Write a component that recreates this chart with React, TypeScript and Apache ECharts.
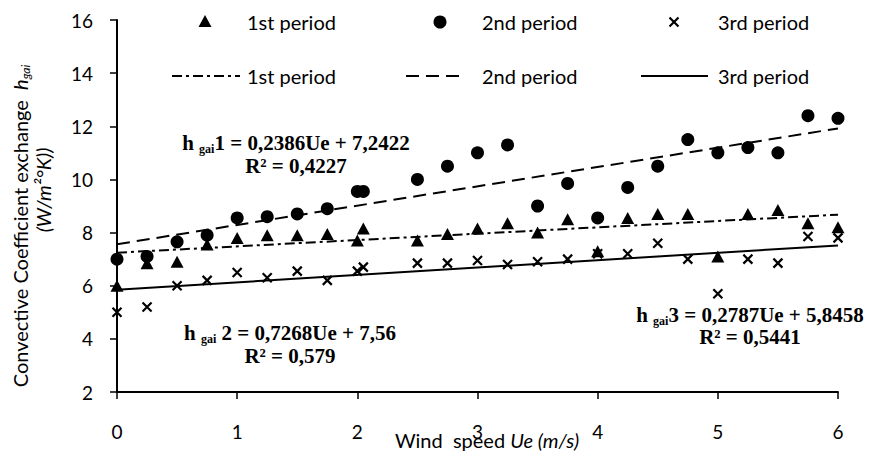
import React, { useEffect, useRef } from "react";
import * as echarts from "echarts";

const WIND = [0, 0.25, 0.5, 0.75, 1, 1.25, 1.5, 1.75, 2, 2.05, 2.5, 2.75, 3, 3.25, 3.5, 3.75, 4, 4.25, 4.5, 4.75, 5, 5.25, 5.5, 5.75, 6];
const PERIOD1 = [6.0, 6.85, 6.9, 7.55, 7.8, 7.9, 7.9, 7.95, 7.7, 8.15, 7.7, 7.95, 8.15, 8.35, 8.0, 8.5, 7.3, 8.55, 8.7, 8.7, 7.1, 8.7, 8.85, 8.35, 8.2];
const PERIOD2 = [7.0, 7.1, 7.65, 7.9, 8.55, 8.6, 8.7, 8.9, 9.55, 9.55, 10.0, 10.5, 11.0, 11.3, 9.0, 9.85, 8.55, 9.7, 10.5, 11.5, 11.0, 11.2, 11.0, 12.4, 12.3];
const PERIOD3 = [5.0, 5.2, 6.0, 6.2, 6.5, 6.3, 6.55, 6.2, 6.55, 6.7, 6.85, 6.85, 6.95, 6.8, 6.9, 7.0, 7.2, 7.2, 7.6, 7.0, 5.7, 7.0, 6.85, 7.85, 7.8];

const SERIES_NAMES = ["1st period", "2nd period", "3rd period"];
const SLOPES = [0.2386, 0.7268, 0.2787];
const INTERCEPTS = [7.2422, 7.56, 5.8458];
const EQ_LINE1 = ["1 = 0,2386Ue + 7,2422", " 2 = 0,7268Ue + 7,56", "3 = 0,2787Ue + 5,8458"];
const EQ_R2 = ["R² = 0,4227", "R² = 0,579", "R² = 0,5441"];

const X_TICKS = { min: 0, max: 6, interval: 1 };
const Y_TICKS = { min: 2, max: 16, interval: 2 };

const SANS = "Lato";
const SERIF = "Liberation Serif";

const CROSS = "path://M0,0L10,10M10,0L0,10";

function trend(i: number) {
  const x0 = Math.min(...WIND);
  const x1 = Math.max(...WIND);
  return [
    [x0, INTERCEPTS[i] + SLOPES[i] * x0],
    [x1, INTERCEPTS[i] + SLOPES[i] * x1],
  ];
}

function pts(ys: number[]) {
  return WIND.map((x, i) => [x, ys[i]]);
}

function eqText(i: number, cx: number, y1: number, y2: number) {
  return [
    {
      type: "text",
      x: cx,
      y: y1,
      style: {
        text: `{b|h }{s|gai}{b|${EQ_LINE1[i]}}`,
        align: "center",
        verticalAlign: "middle",
        textAlign: "center",
        textVerticalAlign: "middle",
        fill: "#000",
        rich: {
          b: { fontFamily: SERIF, fontWeight: "bold", fontSize: 21, lineHeight: 24, fill: "#000", verticalAlign: "middle" },
          s: { fontFamily: SERIF, fontWeight: "bold", fontSize: 12, lineHeight: 12, fill: "#000", verticalAlign: "bottom" },
        },
      },
    },
    {
      type: "text",
      x: cx,
      y: y2,
      style: {
        text: EQ_R2[i],
        align: "center",
        verticalAlign: "middle",
        textAlign: "center",
        textVerticalAlign: "middle",
        fill: "#000",
        font: `bold 21px "${SERIF}"`,
      },
    },
  ];
}

export default function App() {
  const ref = useRef<HTMLDivElement>(null);
  useEffect(() => {
    if (!ref.current) return;
    const chart = echarts.init(ref.current, null, { renderer: "svg" });
    const legendRow1 = 22;
    const legendRow2 = 76;
    const textStyle = { fill: "#000", font: `20px "${SANS}"`, verticalAlign: "middle", textVerticalAlign: "middle" };
    const crossStyle = { stroke: "#000", lineWidth: 2.2 };
    const graphic: any[] = [
      // legend row 1: markers
      { type: "polygon", shape: { points: [[205, legendRow1 - 7], [211.5, legendRow1 + 5], [198.5, legendRow1 + 5]] }, style: { fill: "#000" } },
      { type: "text", x: 247, y: legendRow1, style: { ...textStyle, text: SERIES_NAMES[0] } },
      { type: "circle", shape: { cx: 440, cy: legendRow1, r: 6.5 }, style: { fill: "#000" } },
      { type: "text", x: 482, y: legendRow1, style: { ...textStyle, text: SERIES_NAMES[1] } },
      { type: "line", shape: { x1: 669.5, y1: legendRow1 - 4.5, x2: 678.5, y2: legendRow1 + 4.5 }, style: crossStyle },
      { type: "line", shape: { x1: 678.5, y1: legendRow1 - 4.5, x2: 669.5, y2: legendRow1 + 4.5 }, style: crossStyle },
      { type: "text", x: 718, y: legendRow1, style: { ...textStyle, text: SERIES_NAMES[2] } },
      // legend row 2: trend lines
      { type: "line", shape: { x1: 172, y1: legendRow2, x2: 240, y2: legendRow2 }, style: { stroke: "#000", lineWidth: 2, lineDash: [10, 4, 3, 4] } },
      { type: "text", x: 247, y: legendRow2, style: { ...textStyle, text: SERIES_NAMES[0] } },
      { type: "line", shape: { x1: 406, y1: legendRow2, x2: 462, y2: legendRow2 }, style: { stroke: "#000", lineWidth: 2, lineDash: [13, 7] } },
      { type: "text", x: 482, y: legendRow2, style: { ...textStyle, text: SERIES_NAMES[1] } },
      { type: "line", shape: { x1: 641, y1: legendRow2, x2: 708, y2: legendRow2 }, style: { stroke: "#000", lineWidth: 2 } },
      { type: "text", x: 718, y: legendRow2, style: { ...textStyle, text: SERIES_NAMES[2] } },
      // equations
      ...eqText(0, 296, 143, 166),
      ...eqText(1, 290, 333, 356),
      ...eqText(2, 750, 315, 337),
      // x axis title
      {
        type: "text",
        x: 487,
        y: 440,
        style: {
          text: "{n|Wind  speed }{i|Ue (m/s)}",
          align: "center",
          verticalAlign: "middle",
          textAlign: "center",
          textVerticalAlign: "middle",
          fill: "#000",
          rich: {
            n: { fontFamily: SANS, fontSize: 20, fill: "#000" },
            i: { fontFamily: SANS, fontSize: 20, fontStyle: "italic", fill: "#000" },
          },
        },
      },
      // y axis title
      {
        type: "text",
        x: 20,
        y: 226,
        rotation: Math.PI / 2,
        style: {
          text: "{n|Convective Coefficient exchange  }{i|h}{s|gai}",
          align: "center",
          verticalAlign: "middle",
          textAlign: "center",
          textVerticalAlign: "middle",
          fill: "#000",
          rich: {
            n: { fontFamily: SANS, fontSize: 20, lineHeight: 22, fill: "#000", verticalAlign: "middle" },
            i: { fontFamily: SANS, fontSize: 20, lineHeight: 22, fontStyle: "italic", fill: "#000", verticalAlign: "middle" },
            s: { fontFamily: SANS, fontSize: 12, lineHeight: 12, fontStyle: "italic", fill: "#000", verticalAlign: "bottom" },
          },
        },
      },
      {
        type: "text",
        x: 43,
        y: 190,
        rotation: Math.PI / 2,
        style: {
          text: "(W/m²°K))",
          align: "center",
          verticalAlign: "middle",
          textAlign: "center",
          textVerticalAlign: "middle",
          fill: "#000",
          font: `italic 20px "${SANS}"`,
        },
      },
    ];

    chart.setOption({
      animation: false,
      backgroundColor: "#fff",
      grid: { left: 117, right: 35, top: 20, bottom: 60, containLabel: false },
      xAxis: {
        type: "value",
        ...X_TICKS,
        axisLine: { show: true, onZero: false, lineStyle: { color: "#000", width: 2 } },
        axisTick: { show: true, inside: false, length: 7, lineStyle: { color: "#000", width: 1.5 } },
        axisLabel: { color: "#000", fontFamily: SANS, fontSize: 19, margin: 30 },
        splitLine: { show: false },
      },
      yAxis: {
        type: "value",
        ...Y_TICKS,
        axisLine: { show: true, onZero: false, lineStyle: { color: "#000", width: 2 } },
        axisTick: { show: true, inside: false, length: 7, lineStyle: { color: "#000", width: 1.5 } },
        axisLabel: { color: "#000", fontFamily: SANS, fontSize: 19, margin: 24 },
        splitLine: { show: false },
      },
      series: [
        {
          name: SERIES_NAMES[0] + " trend",
          type: "line",
          data: trend(0),
          symbol: "none",
          lineStyle: { color: "#000", width: 2, type: [10, 4, 3, 4] },
          z: 2,
        },
        {
          name: SERIES_NAMES[1] + " trend",
          type: "line",
          data: trend(1),
          symbol: "none",
          lineStyle: { color: "#000", width: 2, type: [13, 7] },
          z: 2,
        },
        {
          name: SERIES_NAMES[2] + " trend",
          type: "line",
          data: trend(2),
          symbol: "none",
          lineStyle: { color: "#000", width: 2 },
          z: 2,
        },
        {
          name: SERIES_NAMES[0],
          type: "scatter",
          data: pts(PERIOD1),
          symbol: "triangle",
          symbolSize: [13, 12],
          itemStyle: { color: "#000", opacity: 1 },
          z: 3,
        },
        {
          name: SERIES_NAMES[1],
          type: "scatter",
          data: pts(PERIOD2),
          symbol: "circle",
          symbolSize: 13,
          itemStyle: { color: "#000", opacity: 1 },
          z: 3,
        },
        {
          name: SERIES_NAMES[2],
          type: "scatter",
          data: pts(PERIOD3),
          symbol: CROSS,
          symbolSize: 9,
          itemStyle: { color: "transparent", borderColor: "#000", borderWidth: 2.2, opacity: 1 },
          z: 3,
        },
      ],
      graphic,
    });
    return () => chart.dispose();
  }, []);
  return <div ref={ref} style={{ position: "fixed", left: 0, top: 0, width: 873, height: 452, background: "#fff" }} />;
}
